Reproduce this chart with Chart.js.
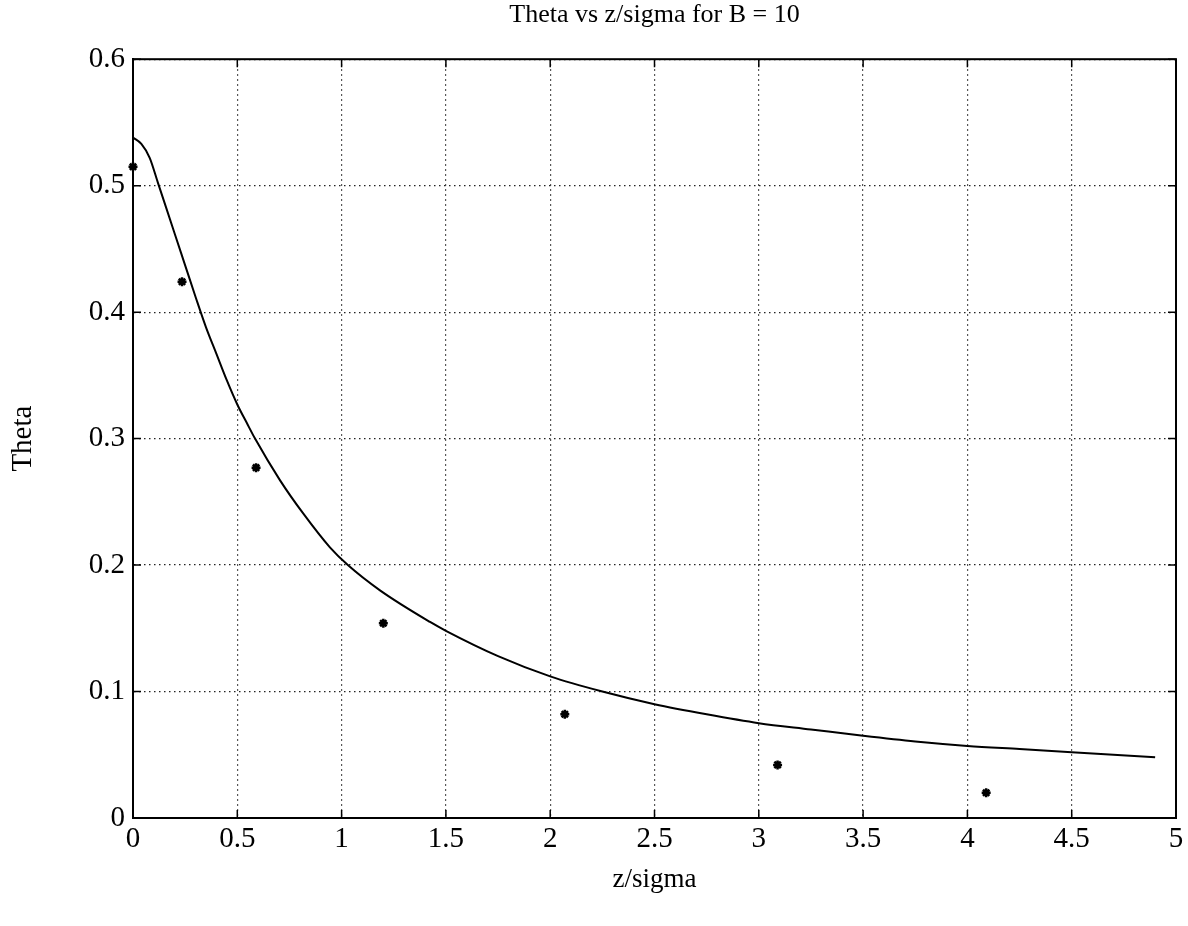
<!DOCTYPE html>
<html>
<head>
<meta charset="utf-8">
<script src="https://cdn.jsdelivr.net/npm/chart.js@4/dist/chart.umd.min.js"></script>
<style>
html,body{margin:0;padding:0;background:#fff;}
#wrap{width:1188px;height:926px;}
</style>
</head>
<body>
<div id="wrap"><canvas id="c" width="1188" height="926"></canvas></div>
<script>
// ---- data ----
const curveX = [0, 0.04, 0.08, 0.12, 0.2, 0.25, 0.3, 0.35, 0.4, 0.45, 0.5, 0.55, 0.585, 0.705, 0.815, 0.944, 1.03, 1.184, 1.424, 1.5, 1.75, 2.0, 2.25, 2.5, 2.75, 3.0, 3.25, 3.5, 3.75, 4.0, 4.25, 4.5, 4.9];
const curveY = [0.538, 0.533, 0.522, 0.502, 0.462, 0.437, 0.412, 0.388, 0.367, 0.346, 0.327, 0.311, 0.300, 0.267, 0.241, 0.214, 0.200, 0.180, 0.155, 0.148, 0.128, 0.112, 0.100, 0.090, 0.082, 0.075, 0.070, 0.065, 0.0605, 0.057, 0.0545, 0.052, 0.048];
const starX = [0.0, 0.235, 0.59, 1.20, 2.07, 3.09, 4.09];
const starY = [0.515, 0.424, 0.277, 0.154, 0.082, 0.042, 0.020];
const xTickLabels = ['0','0.5','1','1.5','2','2.5','3','3.5','4','4.5','5'];
const yTickLabels = ['0','0.1','0.2','0.3','0.4','0.5','0.6'];
const titleText = 'Theta vs z/sigma for B = 10';
const xTitle = 'z/sigma';
const yTitle = 'Theta';

const FONT = '"Liberation Serif", "Times New Roman", serif';

const framePlugin = {
  id: 'frame',
  afterDatasetsDraw(chart) {
    const {ctx, chartArea: a, scales} = chart;
    ctx.save();
    ctx.strokeStyle = '#000';
    ctx.lineWidth = 2;
    ctx.setLineDash([]);
    ctx.strokeRect(a.left, a.top, a.right - a.left, a.bottom - a.top);
    ctx.lineWidth = 1.5;
    const tl = 8;
    ctx.beginPath();
    xTickLabels.forEach((l, i) => {
      const x = scales.x.getPixelForValue(i * 0.5);
      ctx.moveTo(x, a.bottom); ctx.lineTo(x, a.bottom - tl);
      ctx.moveTo(x, a.top); ctx.lineTo(x, a.top + tl);
    });
    yTickLabels.forEach((l, i) => {
      const y = scales.y.getPixelForValue(i * 0.1);
      ctx.moveTo(a.left, y); ctx.lineTo(a.left + tl, y);
      ctx.moveTo(a.right, y); ctx.lineTo(a.right - tl, y);
    });
    ctx.stroke();
    ctx.restore();
  }
};

new Chart(document.getElementById('c'), {
  type: 'scatter',
  data: {
    datasets: [
      {
        label: 'curve',
        data: curveX.map((x, i) => ({x, y: curveY[i]})),
        showLine: true,
        borderColor: '#000',
        borderWidth: 2,
        pointRadius: 0,
        cubicInterpolationMode: 'monotone',
        fill: false
      },
      {
        label: 'measured',
        data: starX.map((x, i) => ({x, y: starY[i]})),
        showLine: false,
        pointStyle: 'star',
        pointRadius: 4.5,
        borderWidth: 2.5,
        borderColor: '#000',
        backgroundColor: '#000',
        clip: false
      }
    ]
  },
  options: {
    responsive: false,
    animation: false,
    devicePixelRatio: 1,
    layout: { padding: { left: 0, right: 12, top: 0, bottom: 0 } },
    plugins: {
      legend: { display: false },
      tooltip: { enabled: false },
      title: {
        display: true,
        fullSize: false,
        text: titleText,
        color: '#000',
        font: { family: FONT, size: 26, weight: 'normal' },
        padding: { top: 0, bottom: 28 }
      }
    },
    scales: {
      x: {
        type: 'linear',
        min: 0, max: 5,
        afterFit(s) { s.height = 108; },
        afterBuildTicks(s) { s.ticks = xTickLabels.map((l, i) => ({value: i * 0.5})); },
        ticks: {
          callback: (v, i) => xTickLabels[i],
          color: '#000',
          font: { family: FONT, size: 29 },
          padding: 4,
          maxRotation: 0,
          autoSkip: false
        },
        grid: { color: '#222', lineWidth: 1.2, drawTicks: false },
        border: { display: true, color: '#000', width: 2, dash: [1.5, 3.5] },
        title: {
          display: true, text: xTitle, color: '#000',
          font: { family: FONT, size: 27 },
          padding: { top: 0, bottom: 30 }
        }
      },
      y: {
        type: 'linear',
        min: 0, max: 0.6,
        afterFit(s) { s.width = 133; },
        afterBuildTicks(s) { s.ticks = yTickLabels.map((l, i) => ({value: i * 0.1})); },
        ticks: {
          callback: (v, i) => yTickLabels[i],
          color: '#000',
          font: { family: FONT, size: 29 },
          padding: 8,
          autoSkip: false
        },
        grid: { color: '#222', lineWidth: 1.2, drawTicks: false },
        border: { display: true, color: '#000', width: 2, dash: [1.5, 3.5] },
        title: {
          display: true, text: yTitle, color: '#000',
          font: { family: FONT, size: 29 },
          padding: { top: 6, bottom: 0 }
        }
      }
    }
  },
  plugins: [framePlugin]
});
</script>
</body>
</html>
